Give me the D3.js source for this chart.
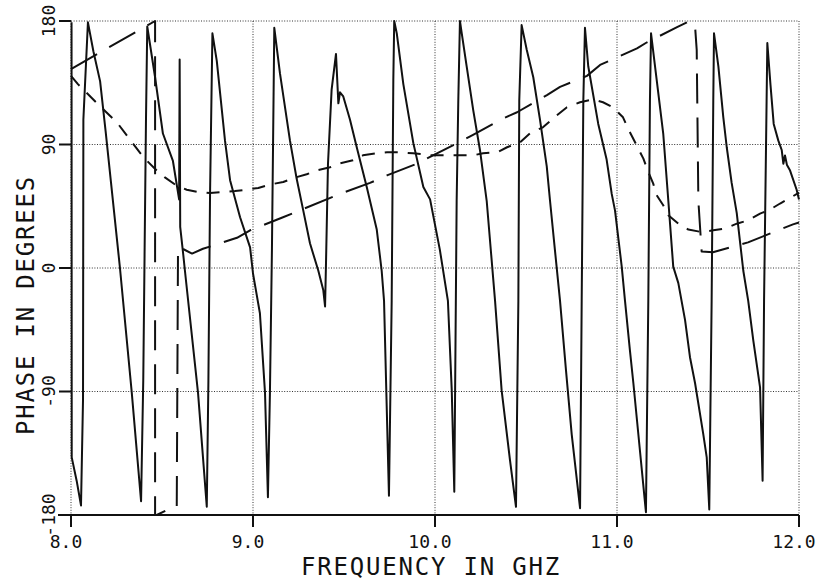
<!DOCTYPE html>
<html>
<head>
<meta charset="utf-8">
<script src="https://cdn.jsdelivr.net/npm/d3@7/dist/d3.min.js"></script>
<style>
  body { margin: 0; background: #fff; }
  text { font-family: "DejaVu Sans Mono", monospace; fill: #111; }
</style>
</head>
<body>
<div id="phase-plot"></div>
<script>
// axis ticks
var freqTicks = [8, 9, 10, 11, 12]
var freqLabels = ["8.0", "9.0", "10.0", "11.0", "12.0"]
var phaseTicks = [-180, -90, 0, 90, 180]
var phaseLabels = ["-180", "-90", "0", "90", "180"]

// solid trace (fast wrapping phase)
var solidFreq = [8.003, 8.004, 8.031, 8.055, 8.066, 8.068, 8.093, 8.123, 8.16, 8.19, 8.22, 8.269, 8.334, 8.385,
  8.397, 8.412, 8.419, 8.462, 8.505, 8.56, 8.594, 8.597, 8.6, 8.615, 8.626, 8.698, 8.746,
  8.755, 8.764, 8.777, 8.801, 8.846, 8.874, 8.929, 8.984, 9.0, 9.038, 9.066, 9.082,
  9.093, 9.104, 9.117, 9.148, 9.203, 9.24, 9.276, 9.313, 9.359, 9.386, 9.396,
  9.401, 9.412, 9.432, 9.456, 9.469, 9.478, 9.496, 9.533, 9.57, 9.625, 9.68, 9.707, 9.72, 9.747,
  9.762, 9.771, 9.776, 9.79, 9.826, 9.881, 9.936, 9.973, 10.027, 10.071, 10.092, 10.106,
  10.119, 10.128, 10.137, 10.147, 10.174, 10.21, 10.247, 10.284, 10.33, 10.366, 10.412, 10.445,
  10.458, 10.463, 10.476, 10.504, 10.54, 10.577, 10.614, 10.632, 10.659, 10.687, 10.72, 10.751, 10.797,
  10.806, 10.815, 10.824, 10.842, 10.897, 10.943, 10.971, 10.989, 11.026, 11.044, 11.071, 11.09, 11.126, 11.159,
  11.172, 11.181, 11.187, 11.209, 11.254, 11.282, 11.309, 11.337, 11.374, 11.401, 11.429, 11.474, 11.493, 11.507,
  11.52, 11.529, 11.533, 11.557, 11.584, 11.603, 11.63, 11.658, 11.694, 11.721, 11.749, 11.786, 11.8,
  11.808, 11.822, 11.826, 11.843, 11.861, 11.886, 11.905, 11.914, 11.923, 11.934, 11.951, 11.987, 12.0]
var solidPhase = [179, -138, -155, -173, -96, 108, 179, 158, 136, 100, 62, 0, -91, -170,
  -82, 108, 176, 139, 98, 78, 50, 152, 30, 12, -2, -91, -174,
  -82, 54, 171, 151, 93, 64, 37, 15, -4, -33, -91, -167,
  -91, 13, 175, 142, 93, 65, 42, 18, -2, -16, -28,
  3, 76, 130, 156, 120, 128, 125, 108, 88, 59, 28, -2, -24, -166,
  -24, 137, 180, 171, 134, 91, 59, 50, 13, -24, -89, -163,
  49, 122, 180, 171, 147, 115, 86, 49, -24, -89, -140, -174,
  -24, 122, 177, 159, 139, 108, 74, 49, 13, -24, -75, -121, -175,
  -24, 122, 175, 147, 105, 79, 54, 42, 1, -24, -60, -84, -133, -178,
  -24, 122, 171, 147, 98, 49, 1, -11, -38, -65, -84, -121, -138, -176,
  -24, 122, 171, 147, 110, 88, 62, 40, -2, -24, -53, -87, -155,
  -24, 122, 164, 134, 105, 93, 86, 76, 82, 75, 71, 57, 50]

// long dashed trace
var longFreq = [8.0, 8.462, 8.462, 8.471, 8.526, 8.581, 8.588, 8.599, 8.665, 8.725, 8.912, 8.984, 9.165,
  9.478, 9.643, 9.736, 9.901, 9.973, 10.137, 10.209, 10.374, 10.451, 10.615, 10.687, 10.835, 10.907,
  11.11, 11.165, 11.33, 11.401, 11.429, 11.438, 11.447, 11.465, 11.527, 11.72, 11.967, 12.0]
var longPhase = [145, 180, -180, -180, -176.4, -175, 15, 15, 10.5, 14, 22, 27.5, 37,
  54, 62, 67.5, 76, 81, 92, 97, 109, 113.5, 126, 132, 140, 148,
  160, 164.5, 175.5, 180, 176, 159, 49, 12, 11.5, 18.7, 31.8, 33.2]

// short dashed trace
var shortFreq = [8.0, 8.038, 8.132, 8.253, 8.396, 8.471, 8.516, 8.581, 8.636, 8.699, 8.764, 8.837, 8.901,
  8.965, 9.029, 9.093, 9.166, 9.231, 9.295, 9.352, 9.423, 9.478, 9.549, 9.604, 9.681, 9.736, 9.808,
  9.879, 9.934, 9.973, 10.082, 10.121, 10.209, 10.264, 10.341, 10.396, 10.467, 10.522, 10.593, 10.67,
  10.725, 10.797, 10.868, 10.923, 10.978, 11.033, 11.06, 11.117, 11.145, 11.172, 11.199, 11.218, 11.254,
  11.282, 11.337, 11.392, 11.465, 11.529, 11.593, 11.658, 11.721, 11.786, 11.841, 11.896, 11.96, 12.0]
var shortPhase = [140, 134, 121.5, 106, 81, 71, 66, 60, 57, 55.4, 54.6, 55.4, 56.1,
  57.1, 58.3, 60.8, 62.7, 65.9, 68.3, 71.2, 73.4, 76.3, 78.5, 82.1, 83.6, 84.3, 84.3,
  83.6, 82.9, 82.1, 82.1, 82.1, 82.1, 83.6, 84.3, 88, 91.6, 98.2, 102.5, 111.3,
  117.1, 120.8, 122.9, 120.8, 117.1, 109.8, 101.8, 87, 79.7, 70, 61.5, 53, 45.7,
  38.4, 32.3, 28, 26.2, 27.5, 28.7, 32.3, 34.8, 39.6, 42.6, 47, 51.7, 55]

var width = 819, height = 584
var plot = {left: 71, right: 799, top: 21, bottom: 515}

var svg = d3.select("#phase-plot")
  .append("svg")
    .attr("width", width)
    .attr("height", height)

var x = d3.scaleLinear().domain([8, 12]).range([plot.left, plot.right])
var y = d3.scaleLinear().domain([-180, 180]).range([plot.bottom, plot.top])

// dotted grid, including top and side frame
svg.append("g")
  .selectAll("line")
  .data(phaseTicks.filter(function(d){ return d > -180 }))
  .enter().append("line")
    .attr("x1", plot.left).attr("x2", plot.right)
    .attr("y1", function(d){ return y(d) }).attr("y2", function(d){ return y(d) })
    .attr("stroke", "#333").attr("stroke-width", 1).attr("stroke-dasharray", "1,1.6")

svg.append("g")
  .selectAll("line")
  .data(freqTicks)
  .enter().append("line")
    .attr("x1", function(d){ return x(d) }).attr("x2", function(d){ return x(d) })
    .attr("y1", plot.top).attr("y2", plot.bottom)
    .attr("stroke", "#333").attr("stroke-width", 1).attr("stroke-dasharray", "1,1.6")

// solid bottom axis and tick marks
svg.append("line")
  .attr("x1", plot.left - 13).attr("x2", plot.right)
  .attr("y1", plot.bottom).attr("y2", plot.bottom)
  .attr("stroke", "#111").attr("stroke-width", 2)

svg.append("g")
  .selectAll("line")
  .data(freqTicks)
  .enter().append("line")
    .attr("x1", function(d){ return x(d) }).attr("x2", function(d){ return x(d) })
    .attr("y1", plot.bottom).attr("y2", plot.bottom + 12)
    .attr("stroke", "#111").attr("stroke-width", 2)

svg.append("g")
  .selectAll("line")
  .data(phaseTicks.filter(function(d){ return d > -180 }))
  .enter().append("line")
    .attr("x1", plot.left - 12).attr("x2", plot.left)
    .attr("y1", function(d){ return y(d) }).attr("y2", function(d){ return y(d) })
    .attr("stroke", "#111").attr("stroke-width", 2)

// tick labels
svg.append("g")
  .selectAll("text")
  .data(freqTicks)
  .enter().append("text")
    .attr("x", function(d){ return x(d) - 5 })
    .attr("y", 548)
    .attr("text-anchor", "middle")
    .style("font-size", "18px")
    .text(function(d, i){ return freqLabels[i] })

svg.append("g")
  .selectAll("text")
  .data(phaseTicks)
  .enter().append("text")
    .attr("transform", function(d){ return "translate(55," + y(d) + ") rotate(-90)" })
    .attr("text-anchor", "middle")
    .style("font-size", "18px")
    .text(function(d, i){ return phaseLabels[i] })

// axis titles
svg.append("text")
  .attr("x", 431).attr("y", 575)
  .attr("text-anchor", "middle")
  .style("font-size", "24px")
  .style("letter-spacing", "1.8px")
  .text("FREQUENCY IN GHZ")

svg.append("text")
  .attr("transform", "translate(34,305) rotate(-90)")
  .attr("text-anchor", "middle")
  .style("font-size", "24px")
  .style("letter-spacing", "1.8px")
  .text("PHASE IN DEGREES")

// the three traces
var line = d3.line()
  .x(function(d){ return x(d[0]) })
  .y(function(d){ return y(d[1]) })

var traces = [
  {pts: d3.zip(solidFreq, solidPhase), dash: null},
  {pts: d3.zip(longFreq, longPhase), dash: "30,14"},
  {pts: d3.zip(shortFreq, shortPhase), dash: "13,10"}
]

svg.append("g")
  .selectAll("path")
  .data(traces)
  .enter().append("path")
    .attr("d", function(d){ return line(d.pts) })
    .attr("fill", "none")
    .attr("stroke", "#111")
    .attr("stroke-width", 2)
    .attr("stroke-linejoin", "round")
    .attr("stroke-dasharray", function(d){ return d.dash })
</script>
</body>
</html>
